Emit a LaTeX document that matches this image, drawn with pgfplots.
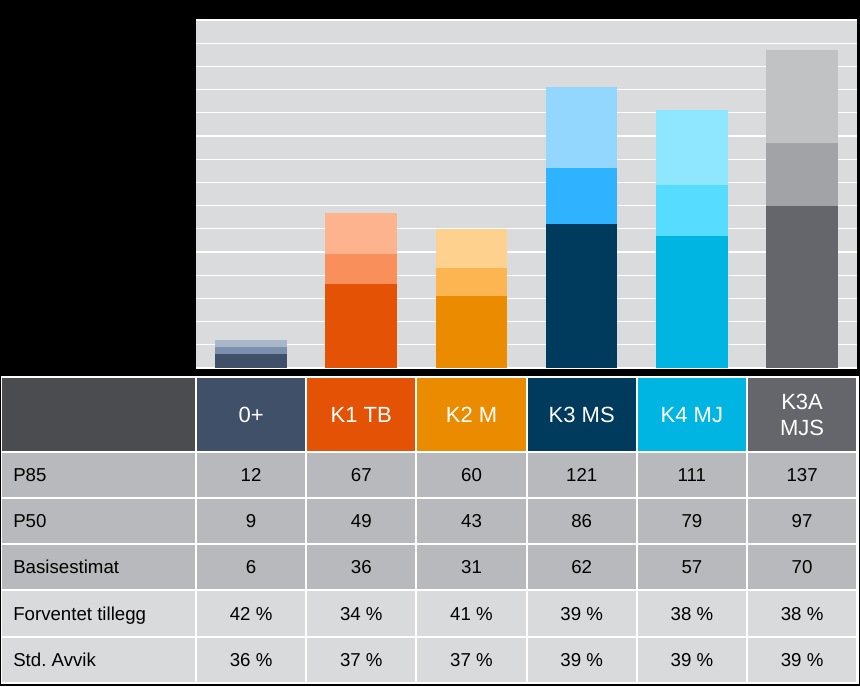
\documentclass[border=0pt]{standalone}
\usepackage{pgfplots}
\pgfplotsset{compat=1.18}
\usepackage{fontspec}
\setmainfont{Liberation Sans}
\frenchspacing
\definecolor{plotbg}{HTML}{DADBDC}
\definecolor{hdr}{HTML}{4A4C50}
\definecolor{rowd}{HTML}{B7B9BC}
\definecolor{rowl}{HTML}{D9DADC}
\definecolor{cAd}{HTML}{3F5068}\definecolor{cAm}{HTML}{7C8FAC}\definecolor{cAl}{HTML}{A9B7CB}
\definecolor{cBd}{HTML}{E35205}\definecolor{cBm}{HTML}{F98F5A}\definecolor{cBl}{HTML}{FCB38E}
\definecolor{cCd}{HTML}{EB8C00}\definecolor{cCm}{HTML}{FDB552}\definecolor{cCl}{HTML}{FFD18F}
\definecolor{cDd}{HTML}{003A5D}\definecolor{cDm}{HTML}{2FB2FF}\definecolor{cDl}{HTML}{93D7FE}
\definecolor{cEd}{HTML}{00B5E2}\definecolor{cEm}{HTML}{55DCFF}\definecolor{cEl}{HTML}{8FE7FF}
\definecolor{cFd}{HTML}{64666B}\definecolor{cFm}{HTML}{A1A3A6}\definecolor{cFl}{HTML}{C1C2C4}
\begin{document}
\begin{tikzpicture}
\begin{scope}[x=0.75pt,y=-0.75pt]
\fill[black] (0,0) rectangle (860,686);
\fill[white] (0.5,376) rectangle (859,684);
% header row
\fill[hdr] (2,378) rectangle (195,451);
\foreach \xl/\xr/\c in {196/306.2/cAd,306.2/416.4/cBd,416.4/526.6/cCd,526.6/636.8/cDd,636.8/747/cEd,747/857.2/cFd}{
  \fill[\c] (\xl+1,378) rectangle (\xr-1,451);
}
% body rows
\foreach \yt/\yb/\c in {452/498/rowd,498/544/rowd,544/590/rowd,590/637/rowl,637/683/rowl}{
  \fill[\c] (2,\yt+1) rectangle (195,\yb-1);
  \foreach \xl/\xr in {196/306.2,306.2/416.4,416.4/526.6,526.6/636.8,636.8/747,747/857.2}{
    \fill[\c] (\xl+1,\yt+1) rectangle (\xr-1,\yb-1);
  }
}
\tikzset{cell/.style={inner sep=0pt,font=\fontsize{14}{19.5}\selectfont},
         hcell/.style={inner sep=0pt,text=white,font=\fontsize{16.5}{19.5}\selectfont}}
% header texts
\foreach \x/\t in {251.1/{0+},361.3/{K1 TB},471.5/{K2 M},581.7/{K3 MS},691.9/{K4 MJ}}{
  \node[hcell,anchor=base] at (\x,422.5) {\t};
}
\node[hcell,align=center,anchor=center] at (802.1,415) {K3A\\MJS};
% row labels
\foreach \y/\t in {475/{P85},521/{P50},567/{Basisestimat},613.5/{Forventet tillegg},660/{Std.\ Avvik}}{
  \node[cell,anchor=base west] at (13,\y+6.7) {\t};
}
% values
\foreach \y/\a/\b/\c/\d/\e/\f in {
  475/12/67/60/121/111/137,
  521/9/49/43/86/79/97,
  567/6/36/31/62/57/70,
  613.5/{42 \%}/{34 \%}/{41 \%}/{39 \%}/{38 \%}/{38 \%},
  660/{36 \%}/{37 \%}/{37 \%}/{39 \%}/{39 \%}/{39 \%}}{
  \node[cell,anchor=base] at (251.1,\y+6.7) {\a};
  \node[cell,anchor=base] at (361.3,\y+6.7) {\b};
  \node[cell,anchor=base] at (471.5,\y+6.7) {\c};
  \node[cell,anchor=base] at (581.7,\y+6.7) {\d};
  \node[cell,anchor=base] at (691.9,\y+6.7) {\e};
  \node[cell,anchor=base] at (802.1,\y+6.7) {\f};
}
\end{scope}
\begin{axis}[
  at={(147pt,-276pt)}, anchor=south west,
  scale only axis, width=495.75pt, height=261pt,
  xmin=-0.5, xmax=5.5, ymin=0, ymax=150,
  ytick={0,10,...,150}, yticklabels={}, xtick=\empty,
  ymajorgrids, grid style={white, line width=1pt},
  axis background/.style={fill=plotbg},
  axis line style={draw=none},
  major tick length=0pt,
  every axis plot/.append style={ybar, bar width=0.65, draw=none},
]
% P85 (total height), drawn first
\addplot[fill=cAl] coordinates {(0,12)};
\addplot[fill=cBl] coordinates {(1,67)};
\addplot[fill=cCl] coordinates {(2,60)};
\addplot[fill=cDl] coordinates {(3,121)};
\addplot[fill=cEl] coordinates {(4,111)};
\addplot[fill=cFl] coordinates {(5,137)};
% P50
\addplot[fill=cAm] coordinates {(0,9)};
\addplot[fill=cBm] coordinates {(1,49)};
\addplot[fill=cCm] coordinates {(2,43)};
\addplot[fill=cDm] coordinates {(3,86)};
\addplot[fill=cEm] coordinates {(4,79)};
\addplot[fill=cFm] coordinates {(5,97)};
% Basisestimat
\addplot[fill=cAd] coordinates {(0,6)};
\addplot[fill=cBd] coordinates {(1,36)};
\addplot[fill=cCd] coordinates {(2,31)};
\addplot[fill=cDd] coordinates {(3,62)};
\addplot[fill=cEd] coordinates {(4,57)};
\addplot[fill=cFd] coordinates {(5,70)};
\end{axis}
\end{tikzpicture}
\end{document}
